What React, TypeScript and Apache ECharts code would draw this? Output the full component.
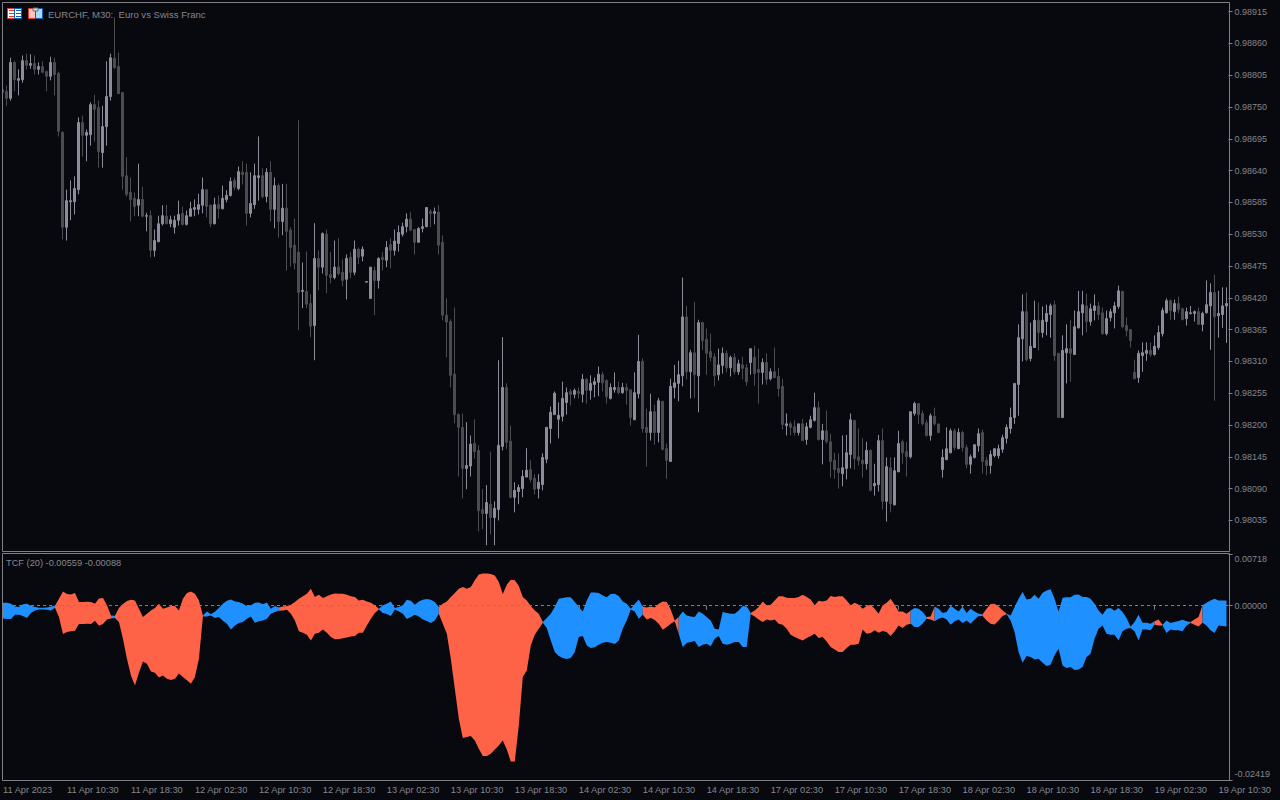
import React, { useEffect, useRef } from "react";
import * as echarts from "echarts";

// Prices in 1e-5 units, one entry per M30 bar
const opens = [
98780,98777,98765,98827,98796,98797,98830,98822,98825,98815,
98820,98811,98803,98827,98808,98706,98542,98586,98586,98607,
98723,98701,98702,98754,98749,98671,98716,98768,98834,98820,
98775,98631,98602,98592,98580,98590,98561,98562,98502,98517,
98548,98561,98548,98542,98554,98566,98547,98561,98573,98573,
98580,98607,98580,98548,98581,98574,98590,98597,98623,98609,
98637,98637,98566,98581,98628,98631,98595,98637,98573,98614,
98552,98575,98537,98511,98499,98431,98431,98410,98372,98488,
98473,98530,98460,98455,98473,98464,98452,98490,98464,98504,
98492,98447,98419,98467,98450,98490,98485,98512,98502,98514,
98530,98543,98556,98538,98516,98540,98543,98569,98566,98568,
98516,98390,98379,98288,98218,98196,98125,98129,98168,98156,
98054,98047,98063,98040,98054,98163,98265,98172,98075,98085,
98090,98110,98123,98108,98090,98097,98141,98194,98218,98210,
98215,98239,98258,98253,98258,98253,98279,98260,98270,98274,
98287,98277,98246,98261,98265,98256,98265,98261,98209,98254,
98310,98196,98187,98223,98187,98241,98159,98137,98265,98272,
98285,98387,98292,98325,98285,98377,98348,98327,98318,98287,
98303,98324,98299,98317,98292,98304,98299,98308,98317,98296,
98291,98308,98280,98292,98284,98267,98199,98202,98197,98187,
98202,98175,98196,98208,98230,98175,98190,98171,98139,98125,
98116,98125,98149,98208,98145,98139,98133,98156,98095,98097,
98173,98068,98126,98062,98119,98171,98154,98145,98220,98237,
98220,98204,98182,98215,98202,98123,98140,98152,98190,98159,
98187,98161,98132,98144,98164,98187,98139,98130,98147,98147,
98158,98177,98194,98213,98270,98349,98396,98315,98334,98381,
98360,98379,98391,98408,98324,98213,98325,98332,98322,98368,
98394,98406,98379,98398,98406,98394,98358,98386,98394,98405,
98431,98372,98365,98291,98282,98320,98324,98329,98322,98334,
98358,98394,98415,98396,98410,98401,98384,98393,98393,98396,
98374,98394,98406,98429,98389,98391,98406];

const closes = [
98775,98765,98827,98797,98799,98830,98822,98825,98815,98820,
98810,98803,98827,98806,98708,98542,98588,98588,98609,98723,
98701,98706,98754,98746,98673,98716,98768,98835,98818,98773,
98630,98599,98590,98578,98590,98561,98562,98502,98519,98548,
98562,98548,98555,98554,98564,98547,98562,98574,98576,98581,
98607,98578,98548,98581,98574,98592,98597,98621,98611,98638,
98633,98566,98583,98631,98631,98595,98637,98573,98614,98552,
98575,98535,98507,98480,98429,98433,98409,98371,98488,98473,
98531,98459,98455,98473,98462,98450,98488,98464,98504,98490,
98504,98448,98473,98450,98488,98486,98507,98502,98518,98533,
98543,98556,98537,98516,98540,98543,98576,98566,98569,98511,
98390,98378,98286,98218,98196,98125,98130,98167,98154,98052,
98047,98066,98040,98056,98165,98265,98170,98075,98087,98092,
98111,98122,98106,98089,98101,98144,98196,98222,98255,98217,
98246,98256,98253,98260,98255,98279,98260,98272,98275,98288,
98273,98249,98265,98265,98256,98265,98260,98213,98256,98310,
98194,98187,98223,98187,98242,98158,98139,98267,98273,98287,
98387,98292,98325,98287,98377,98346,98324,98317,98285,98304,
98324,98299,98317,98292,98306,98298,98275,98332,98289,98291,
98308,98279,98292,98282,98263,98201,98202,98196,98187,98202,
98173,98197,98209,98230,98175,98190,98171,98137,98123,98118,
98126,98152,98209,98142,98139,98133,98156,98087,98099,98173,
98068,98128,98064,98121,98168,98152,98145,98223,98237,98218,
98202,98182,98216,98202,98187,98144,98159,98190,98161,98187,
98161,98132,98145,98166,98185,98137,98130,98149,98159,98159,
98178,98196,98213,98272,98351,98396,98313,98336,98381,98360,
98381,98393,98406,98320,98213,98329,98332,98324,98370,98396,
98408,98379,98401,98406,98391,98358,98384,98396,98406,98432,
98370,98363,98346,98280,98324,98325,98329,98322,98336,98360,
98398,98415,98398,98410,98400,98382,98396,98394,98396,98374,
98393,98408,98429,98387,98393,98406,98410];

const highs = [
98781,98787,98835,98830,98815,98839,98842,98841,98839,98827,
98829,98813,98837,98835,98811,98708,98607,98623,98630,98732,
98735,98711,98758,98771,98761,98752,98829,98842,98905,98844,
98775,98663,98628,98602,98652,98612,98567,98571,98538,98562,
98580,98581,98562,98562,98588,98578,98571,98586,98590,98600,
98628,98607,98581,98593,98597,98614,98606,98628,98628,98647,
98656,98652,98637,98652,98699,98644,98644,98656,98628,98618,
98617,98617,98542,98557,98727,98481,98500,98426,98549,98502,
98533,98538,98499,98519,98523,98486,98495,98499,98519,98507,
98509,98448,98473,98474,98490,98499,98518,98523,98538,98545,
98550,98566,98568,98538,98542,98557,98576,98573,98576,98580,
98528,98419,98383,98403,98220,98220,98205,98182,98210,98165,
98089,98096,98154,98068,98312,98352,98272,98199,98101,98097,
98122,98160,98139,98115,98115,98151,98196,98232,98258,98239,
98275,98265,98262,98263,98265,98288,98281,98286,98282,98301,
98292,98279,98272,98291,98275,98273,98272,98261,98291,98356,
98315,98228,98254,98235,98247,98241,98168,98280,98304,98311,
98455,98406,98330,98413,98382,98379,98367,98358,98324,98332,
98334,98329,98320,98324,98313,98318,98306,98332,98337,98332,
98315,98324,98298,98334,98299,98280,98220,98206,98208,98202,
98211,98204,98216,98256,98241,98202,98225,98185,98152,98151,
98182,98183,98220,98208,98194,98177,98171,98158,98133,98183,
98194,98144,98144,98144,98190,98175,98171,98223,98240,98237,
98225,98209,98220,98230,98202,98158,98196,98194,98194,98194,
98190,98166,98149,98166,98194,98192,98145,98156,98159,98166,
98183,98201,98230,98272,98374,98426,98429,98377,98415,98412,
98405,98408,98410,98415,98324,98355,98374,98382,98398,98432,
98432,98427,98410,98426,98413,98403,98398,98401,98413,98441,
98432,98386,98365,98313,98329,98343,98343,98343,98355,98372,
98403,98419,98417,98417,98422,98403,98403,98406,98398,98403,
98396,98450,98445,98460,98432,98438,98438];

const lows = [
98773,98752,98761,98777,98770,98792,98815,98816,98806,98806,
98808,98777,98796,98770,98699,98521,98519,98554,98564,98599,
98664,98656,98683,98690,98645,98645,98683,98761,98816,98773,
98607,98595,98552,98561,98561,98559,98535,98490,98491,98516,
98545,98548,98542,98531,98545,98545,98545,98561,98561,98564,
98566,98559,98542,98547,98557,98573,98585,98595,98606,98606,
98616,98545,98559,98574,98588,98592,98585,98552,98540,98524,
98528,98467,98474,98469,98364,98402,98402,98352,98312,98433,
98462,98428,98445,98452,98459,98440,98417,98454,98459,98478,
98483,98447,98419,98390,98436,98467,98473,98471,98493,98500,
98526,98533,98535,98495,98516,98533,98542,98542,98547,98495,
98381,98317,98265,98203,98111,98073,98089,98111,98142,98016,
98020,97992,98011,97992,98035,98156,98158,98073,98049,98063,
98075,98110,98101,98080,98073,98087,98134,98168,98218,98177,
98206,98218,98234,98246,98246,98239,98237,98244,98248,98250,
98258,98237,98244,98256,98253,98254,98235,98199,98209,98246,
98187,98128,98173,98166,98170,98156,98107,98137,98246,98241,
98267,98279,98246,98247,98222,98330,98287,98310,98267,98277,
98289,98291,98284,98287,98287,98279,98268,98287,98268,98237,
98270,98270,98277,98282,98249,98192,98182,98182,98182,98182,
98173,98166,98194,98206,98173,98132,98168,98109,98107,98090,
98094,98106,98125,98123,98130,98109,98123,98085,98078,98085,
98054,98033,98049,98061,98119,98133,98111,98142,98216,98202,
98199,98180,98173,98199,98187,98109,98140,98151,98156,98159,
98154,98125,98116,98142,98154,98116,98113,98116,98144,98142,
98152,98168,98185,98202,98216,98310,98310,98310,98334,98329,
98351,98355,98351,98311,98213,98213,98272,98275,98322,98367,
98355,98360,98372,98381,98382,98356,98355,98379,98367,98401,
98367,98353,98334,98280,98273,98292,98311,98318,98320,98330,
98353,98393,98382,98382,98393,98382,98372,98391,98379,98374,
98362,98393,98330,98242,98351,98368,98342];

// TCF indicator band, 1e-5 units
const tcfUpper = [
42,42,28,-9,-19,19,28,0,-19,-28,
-28,-23,-9,0,97,199,162,157,176,51,
51,56,51,28,102,106,5,-134,-139,-32,
23,65,83,74,-42,-157,-111,-65,-32,28,
-42,-23,-5,-5,-65,97,176,199,167,74,
-134,-79,-120,-83,-32,28,69,88,60,51,
28,-5,5,42,46,19,46,-42,-5,-23,
-9,-5,14,51,97,130,167,236,120,153,
106,130,157,171,167,167,153,130,120,74,
83,60,42,5,-42,5,28,60,-32,-19,
5,83,69,14,60,83,93,83,51,-19,
28,60,120,176,236,259,236,259,352,435,
449,449,440,421,329,162,292,361,352,273,
120,74,-5,-65,-111,-227,-171,-111,-19,97,
106,116,116,51,-19,-79,74,185,185,176,
143,116,162,167,134,60,28,-42,23,88,
-14,-23,-9,-23,28,60,51,-51,-204,-157,
-79,-134,-148,-157,-79,-111,-157,-204,-319,-329,
-88,-102,-111,-111,-65,-5,-9,-102,-65,-19,
60,5,14,74,130,130,111,106,106,120,
153,120,88,5,69,60,74,134,120,130,
130,74,5,42,14,-42,-5,14,-42,-111,
5,42,97,14,-79,-79,-111,-65,-32,-42,
-88,-157,-148,-9,-42,-102,-88,0,-42,-79,
-14,-102,-42,-79,-111,-120,-42,23,28,-9,
-65,-111,-134,-19,97,190,88,97,153,97,
180,213,227,97,-79,111,116,116,153,157,
120,120,97,28,-65,-125,-42,-32,-69,-32,
-88,-171,-292,-227,-125,-236,-236,-250,-217,-190,
-264,-204,-241,-227,-213,-194,-217,-227,-190,-157,
5,42,74,97,74,74,74];

const tcfLower = [
-176,-185,-185,-125,-125,-143,-171,-102,-65,-51,
-51,-56,-65,-28,-157,-393,-366,-356,-347,-254,
-254,-250,-254,-208,-278,-254,-190,-176,-171,-227,
-458,-736,-967,-1106,-930,-773,-805,-912,-930,-995,
-967,-1013,-1032,-1013,-939,-990,-1036,-1083,-990,-736,
-148,-148,-134,-171,-157,-208,-250,-329,-273,-241,
-227,-180,-148,-236,-217,-204,-180,-111,-88,-69,
-65,-56,-111,-204,-356,-375,-403,-481,-389,-375,
-329,-375,-435,-467,-463,-453,-440,-426,-421,-375,
-375,-273,-180,-102,-51,-102,-116,-143,-51,-79,
-111,-185,-157,-125,-148,-190,-213,-241,-204,-111,
-250,-389,-736,-1152,-1569,-1837,-1823,-1809,-1869,-1985,
-2087,-2087,-2054,-1994,-1939,-1869,-1994,-2161,-2161,-1661,
-990,-898,-551,-403,-319,-236,-310,-481,-643,-699,
-726,-740,-726,-643,-435,-421,-551,-588,-578,-541,
-514,-504,-514,-532,-481,-319,-204,-51,-79,-180,
-125,-190,-171,-199,-250,-333,-296,-250,-217,-389,
-574,-518,-504,-490,-574,-541,-527,-564,-458,-421,
-527,-541,-527,-504,-504,-574,-574,-120,-148,-190,
-227,-190,-204,-190,-250,-264,-319,-403,-435,-458,
-481,-449,-421,-389,-449,-435,-495,-574,-606,-643,
-643,-588,-541,-541,-527,-329,-389,-379,-342,-375,
-352,-366,-421,-356,-273,-310,-264,-250,-296,-296,
-250,-180,-190,-217,-180,-162,-190,-264,-217,-190,
-241,-204,-250,-190,-143,-143,-204,-250,-259,-204,
-143,-120,-204,-366,-643,-791,-699,-713,-745,-736,
-791,-837,-819,-689,-597,-828,-865,-851,-893,-884,
-851,-713,-666,-458,-319,-273,-389,-403,-403,-481,
-356,-319,-310,-356,-481,-329,-329,-342,-264,-273,
-273,-379,-329,-342,-342,-356,-273,-241,-264,-287,
-236,-273,-342,-379,-273,-282,-287];

// Contiguous colour runs of the band: first bar, last bar, side
const bandRunStarts = [0, 13, 27, 28, 50, 69, 94, 109, 135, 160, 169, 187, 227, 231, 233, 245, 251, 288, 290, 297, 300];
const bandRunEnds = [13, 27, 28, 50, 69, 94, 109, 135, 160, 169, 187, 227, 231, 233, 245, 251, 288, 290, 297, 300, 306];
const bandRunSides = ["blue", "red", "blue", "red", "blue", "red", "blue", "red", "blue", "red", "blue", "red", "blue", "red", "blue", "red", "blue", "red", "blue", "red", "blue"];

const priceTicks = ["0.98915", "0.98860", "0.98805", "0.98750", "0.98695", "0.98640", "0.98585", "0.98530", "0.98475", "0.98420", "0.98365", "0.98310", "0.98255", "0.98200", "0.98145", "0.98090", "0.98035"];
const tcfTicks = ["0.00718", "0.00000", "-0.02419"];
const timeTicks = ["11 Apr 2023", "11 Apr 10:30", "11 Apr 18:30", "12 Apr 02:30", "12 Apr 10:30", "12 Apr 18:30", "13 Apr 02:30", "13 Apr 10:30", "13 Apr 18:30", "14 Apr 02:30", "14 Apr 10:30", "14 Apr 18:30", "17 Apr 02:30", "17 Apr 10:30", "17 Apr 18:30", "18 Apr 02:30", "18 Apr 10:30", "18 Apr 18:30", "19 Apr 02:30", "19 Apr 10:30"];

const BG = "#08090f";
const FRAME = "#808084";
const TEXT = "#86868a";
const UP = "#8b8d9b";
const DOWN = "#4b4b50";
const BAND = { blue: "#1e90ff", red: "#ff6347" } as Record<string, string>;
const FONT = "'Liberation Sans', sans-serif";
const BARS_PER_TICK = 16;

function buildOption() {
  const categories = opens.map((_, i) => String(i));
  const candles = opens.map((o, i) => [o / 1e5, closes[i] / 1e5, lows[i] / 1e5, highs[i] / 1e5]);
  const runs = bandRunStarts.map((s, i) => [s, bandRunEnds[i], i]);
  const box = (x: number, y: number, width: number, height: number, fill: string, stroke?: string) => ({
    type: "rect",
    z: 101,
    silent: true,
    shape: { x, y, width, height },
    style: { fill, stroke: stroke ?? undefined, lineWidth: stroke ? 1 : 0 },
  });
  const labelStyle = { color: TEXT, fontFamily: FONT, fontSize: 9 };
  return {
    animation: false,
    backgroundColor: BG,
    grid: [
      { left: 0.5, width: 1228, top: 2.5, height: 549 },
      { left: 0.5, width: 1228, top: 554, height: 226 },
    ],
    xAxis: [
      { type: "category", gridIndex: 0, data: categories, show: false },
      {
        type: "category",
        gridIndex: 1,
        data: categories,
        position: "bottom",
        axisLine: { show: false },
        axisTick: { show: true, alignWithLabel: true, interval: BARS_PER_TICK - 1, length: 4, lineStyle: { color: FRAME } },
        axisLabel: {
          show: true,
          interval: BARS_PER_TICK - 1,
          align: "left",
          margin: 5,
          color: TEXT,
          fontFamily: FONT,
          fontSize: 9.25,
          hideOverlap: false,
          formatter: (_: string, idx: number) => timeTicks[idx / BARS_PER_TICK] ?? "",
        },
        splitLine: { show: false },
      },
    ],
    yAxis: [
      {
        type: "value",
        gridIndex: 0,
        position: "right",
        min: 0.979813,
        max: 0.989306,
        axisLine: { show: false },
        splitLine: { show: false },
        axisTick: { show: true, length: 4, lineStyle: { color: FRAME }, customValues: priceTicks.map(Number) },
        axisLabel: {
          show: true,
          margin: 6,
          ...labelStyle,
          customValues: priceTicks.map(Number),
          formatter: (v: number) => v.toFixed(5),
        },
      },
      {
        type: "value",
        gridIndex: 1,
        position: "right",
        min: -0.02419,
        max: 0.00718,
        axisLine: { show: false },
        splitLine: { show: false },
        axisTick: { show: true, length: 4, lineStyle: { color: FRAME }, customValues: tcfTicks.map(Number) },
        axisLabel: {
          show: true,
          margin: 6,
          ...labelStyle,
          customValues: tcfTicks.map(Number),
          // the extreme labels sit inside the pane, not centred on their ticks
          formatter: (v: number) => {
            const s = v.toFixed(5);
            if (v > 0) return `{high|${s}}`;
            if (v < 0) return `{low|${s}}`;
            return `{mid|${s}}`;
          },
          rich: {
            high: { ...labelStyle, padding: [9, 0, 0, 0] },
            mid: { ...labelStyle },
            low: { ...labelStyle, padding: [0, 0, 12, 0] },
          },
        },
      },
    ],
    series: [
      {
        type: "candlestick",
        name: "EURCHF",
        xAxisIndex: 0,
        yAxisIndex: 0,
        data: candles,
        barWidth: 2,
        clip: false,
        silent: true,
        itemStyle: { color: UP, color0: DOWN, borderColor: UP, borderColor0: DOWN, borderColorDoji: UP, borderWidth: 1 },
      },
      {
        type: "custom",
        name: "TCF (20)",
        xAxisIndex: 1,
        yAxisIndex: 1,
        data: runs,
        clip: false,
        silent: true,
        encode: { x: 0 },
        renderItem: (_: unknown, api: any) => {
          const start = api.value(0) as number;
          const end = api.value(1) as number;
          const idx = api.value(2) as number;
          const points: number[][] = [];
          for (let i = start; i <= end; i++) points.push(api.coord([i, tcfUpper[i] / 1e5]));
          for (let i = end; i >= start; i--) points.push(api.coord([i, tcfLower[i] / 1e5]));
          return { type: "polygon", shape: { points }, style: { fill: BAND[bandRunSides[idx]] } };
        },
      },
      {
        type: "line",
        name: "zero",
        xAxisIndex: 1,
        yAxisIndex: 1,
        data: [],
        silent: true,
        z: 10,
        markLine: {
          silent: true,
          symbol: "none",
          label: { show: false },
          lineStyle: { color: "#808080", type: [3, 3], width: 1 },
          data: [{ yAxis: 0 }],
        },
      },
    ],
    graphic: {
      elements: [
        box(0, 0, 2, 800, BG),
        { type: "rect", z: 102, silent: true, shape: { x: 2.5, y: 2.5, width: 1227, height: 549 }, style: { fill: "none", stroke: FRAME, lineWidth: 1 } },
        { type: "rect", z: 102, silent: true, shape: { x: 2.5, y: 553.5, width: 1227, height: 227 }, style: { fill: "none", stroke: FRAME, lineWidth: 1 } },
        // chart-header icons
        box(7.5, 8.5, 7, 10, "#ffffff", "#e8342a"),
        box(9, 10, 5, 1, "#e8342a"), box(9, 13, 5, 1, "#e8342a"), box(9, 16, 5, 1, "#e8342a"),
        box(14.5, 8.5, 7, 10, "#ffffff", "#0a5fb4"),
        box(16, 10, 5, 1, "#0a5fb4"), box(16, 13, 5, 1, "#0a5fb4"), box(16, 16, 5, 1, "#0a5fb4"),
        box(28.5, 8.5, 7, 10, "#ffc4bc", "#e8342a"),
        box(35.5, 8.5, 7, 10, "#a8dcff", "#0a5fb4"),
        box(33, 8, 5, 3, "#d8d8d8", "#6a6a6a"),
        { type: "text", z: 103, silent: true, x: 48, y: 9, style: { text: "EURCHF, M30:  Euro vs Swiss Franc", fill: TEXT, font: `9.55px ${FONT}` } },
        { type: "text", z: 103, silent: true, x: 6, y: 558, style: { text: "TCF (20) -0.00559 -0.00088", fill: TEXT, font: `9.25px ${FONT}` } },
      ],
    },
  };
}

export default function App() {
  const ref = useRef<HTMLDivElement>(null);
  useEffect(() => {
    const chart = echarts.init(ref.current!, undefined, { renderer: "svg" });
    chart.setOption(buildOption() as any);
    return () => chart.dispose();
  }, []);
  return <div ref={ref} style={{ position: "absolute", left: 0, top: 0, width: 1280, height: 800 }} />;
}
